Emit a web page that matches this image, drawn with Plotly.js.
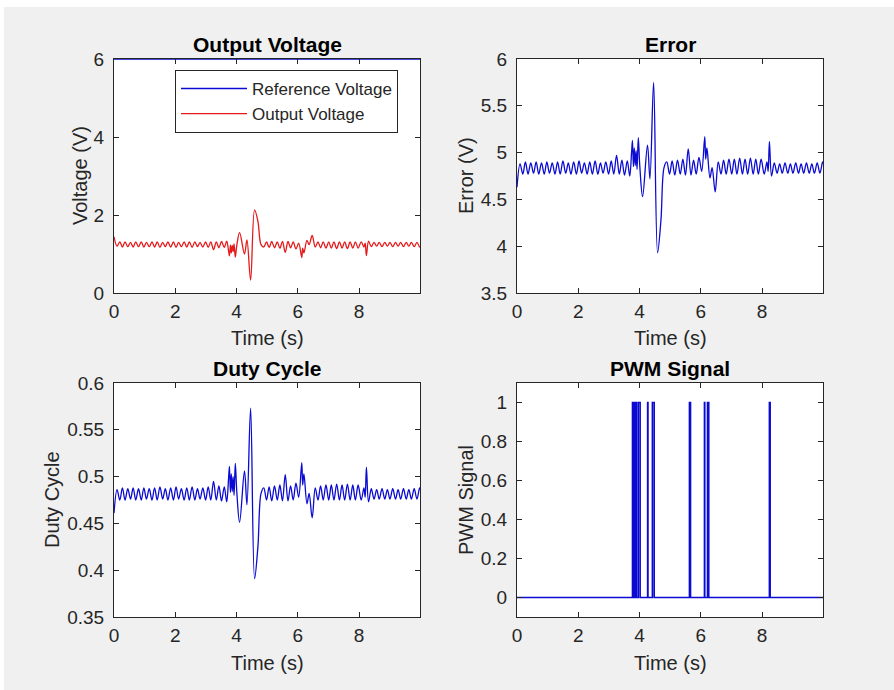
<!DOCTYPE html>
<html>
<head>
<meta charset="utf-8">
<script src="https://cdn.plot.ly/plotly-3.0.1.min.js"></script>
<style>html,body{margin:0;padding:0;background:#f0f0f0;}#chart{width:894px;height:690px;}</style>
</head>
<body>
<div id="chart"></div>
<script>
// ---- data ----
const timeS = [
  0.00, 0.10, 0.19, 0.275, 0.36, 0.45, 0.54, 0.625, 0.71, 0.80,
  0.89, 0.975, 1.06, 1.15, 1.24, 1.325, 1.41, 1.50, 1.59, 1.675,
  1.76, 1.85, 1.94, 2.025, 2.11, 2.20, 2.29, 2.375, 2.46, 2.55,
  2.64, 2.725, 2.81, 2.90, 2.99, 3.075, 3.16, 3.25, 3.34, 3.425,
  3.51, 3.60, 3.68,
  3.74, 3.77, 3.80, 3.83, 3.86, 3.89, 3.92, 3.96, 4.01, 4.10,
  4.26, 4.34, 4.46, 4.59, 4.70, 4.80,
  4.89, 4.98, 5.065, 5.15, 5.24, 5.33, 5.415, 5.50, 5.59, 5.68,
  5.765, 5.85, 5.94, 6.03, 6.13, 6.16, 6.20, 6.30, 6.37, 6.47,
  6.57, 6.66, 6.745, 6.83, 6.92, 7.01, 7.095, 7.18, 7.27, 7.36,
  7.445, 7.53, 7.62, 7.71, 7.795, 7.88, 7.97, 8.07, 8.16, 8.20,
  8.24, 8.31, 8.40, 8.49, 8.575, 8.66, 8.75, 8.84, 8.925, 9.01,
  9.10, 9.19, 9.275, 9.36, 9.45, 9.54, 9.625, 9.71, 9.80, 9.89,
  9.975, 9.99
];
const errorV = [
  4.63, 4.88, 4.77, 4.90, 4.77, 4.89, 4.78, 4.90, 4.77, 4.89,
  4.77, 4.90, 4.78, 4.89, 4.77, 4.90, 4.77, 4.91, 4.78, 4.89,
  4.77, 4.90, 4.77, 4.91, 4.78, 4.89, 4.77, 4.90, 4.77, 4.91,
  4.77, 4.89, 4.78, 4.90, 4.77, 4.91, 4.77, 4.97, 4.77, 4.92,
  4.76, 4.91, 4.75,
  5.00, 5.13, 4.85, 5.05, 4.86, 5.02, 4.82, 5.16, 4.85, 4.53,
  5.08, 4.72, 5.75, 3.93, 4.28, 4.84,
  4.90, 4.77, 4.91, 4.76, 4.92, 4.77, 4.93, 4.76, 5.04, 4.76,
  4.92, 4.77, 4.95, 4.80, 5.17, 4.93, 5.05, 4.73, 4.84, 4.58,
  4.90, 4.77, 4.92, 4.77, 4.93, 4.77, 4.93, 4.77, 4.94, 4.77,
  4.93, 4.77, 4.94, 4.77, 4.93, 4.77, 4.93, 4.77, 4.90, 4.80,
  5.12, 4.75, 4.89, 4.78, 4.88, 4.78, 4.89, 4.78, 4.88, 4.78,
  4.89, 4.78, 4.88, 4.78, 4.89, 4.78, 4.88, 4.78, 4.89, 4.78,
  4.90, 4.88
];
const outputV = [
  1.44, 1.20, 1.31, 1.18, 1.31, 1.19, 1.30, 1.18, 1.31, 1.19,
  1.31, 1.18, 1.30, 1.19, 1.31, 1.18, 1.31, 1.17, 1.30, 1.19,
  1.31, 1.18, 1.31, 1.17, 1.30, 1.19, 1.31, 1.18, 1.31, 1.17,
  1.31, 1.19, 1.30, 1.18, 1.31, 1.17, 1.31, 1.11, 1.31, 1.16,
  1.32, 1.17, 1.33,
  1.08, 0.95, 1.23, 1.03, 1.22, 1.06, 1.26, 0.92, 1.23, 1.55,
  1.00, 1.36, 0.33, 2.13, 1.83, 1.24,
  1.18, 1.31, 1.17, 1.32, 1.16, 1.31, 1.15, 1.32, 1.04, 1.32,
  1.16, 1.31, 1.13, 1.28, 0.91, 1.15, 1.03, 1.35, 1.24, 1.48,
  1.18, 1.31, 1.16, 1.31, 1.15, 1.31, 1.15, 1.31, 1.14, 1.31,
  1.15, 1.31, 1.14, 1.31, 1.15, 1.31, 1.15, 1.31, 1.18, 1.28,
  0.96, 1.33, 1.19, 1.30, 1.20, 1.30, 1.19, 1.30, 1.20, 1.30,
  1.19, 1.30, 1.20, 1.30, 1.19, 1.30, 1.20, 1.30, 1.19, 1.30,
  1.18, 1.20
];
const dutyCycle = [
  0.461, 0.486, 0.475, 0.488, 0.475, 0.487, 0.476, 0.488, 0.475, 0.487,
  0.475, 0.488, 0.476, 0.487, 0.475, 0.488, 0.475, 0.489, 0.476, 0.487,
  0.475, 0.488, 0.475, 0.489, 0.476, 0.487, 0.475, 0.488, 0.475, 0.489,
  0.475, 0.487, 0.476, 0.488, 0.475, 0.489, 0.475, 0.495, 0.475, 0.490,
  0.474, 0.489, 0.473,
  0.498, 0.511, 0.483, 0.503, 0.484, 0.500, 0.480, 0.514, 0.483, 0.451,
  0.506, 0.470, 0.573, 0.391, 0.426, 0.482,
  0.488, 0.475, 0.489, 0.474, 0.490, 0.475, 0.491, 0.474, 0.502, 0.474,
  0.490, 0.475, 0.493, 0.478, 0.515, 0.491, 0.503, 0.471, 0.482, 0.456,
  0.488, 0.475, 0.490, 0.475, 0.491, 0.475, 0.491, 0.475, 0.492, 0.475,
  0.491, 0.475, 0.492, 0.475, 0.491, 0.475, 0.491, 0.475, 0.488, 0.478,
  0.510, 0.473, 0.487, 0.476, 0.486, 0.476, 0.487, 0.476, 0.486, 0.476,
  0.487, 0.476, 0.486, 0.476, 0.487, 0.476, 0.486, 0.476, 0.487, 0.476,
  0.488, 0.486
];
const refT = [0, 9.99];
const refV = [6, 6];
// PWM switching instants (held until next instant)
const pwmT = [0, 3.770, 3.780, 3.785, 3.800, 3.805, 3.820, 3.825, 3.840, 3.845, 3.860,
              3.865, 3.880, 3.885, 3.900, 3.96, 4.02, 4.265, 4.275, 4.42, 4.48,
              5.63, 5.665, 6.12, 6.13, 6.22, 6.26, 8.24, 8.265, 9.99];
const pwmY = [0, 1, 0, 1, 0, 1, 0, 1, 0, 1, 0,
              1, 0, 1, 0, 1, 0, 1, 0, 1, 0,
              1, 0, 1, 0, 1, 0, 1, 0, 0];

const xTicks = [0, 2, 4, 6, 8];
const yTicksV = [0, 2, 4, 6];
const yTicksE = [3.5, 4, 4.5, 5, 5.5, 6];
const yTickTextE = ['3.5', '4', '4.5', '5', '5.5', '6'];
const yTicksD = [0.35, 0.4, 0.45, 0.5, 0.55, 0.6];
const yTickTextD = ['0.35', '0.4', '0.45', '0.5', '0.55', '0.6'];
const yTicksP = [0, 0.2, 0.4, 0.6, 0.8, 1];
const yTickTextP = ['0', '0.2', '0.4', '0.6', '0.8', '1'];

// ---- styling ----
const FONT = 'Liberation Sans, Arial, Helvetica, sans-serif';
const AX = '#262626';
const BLUE = '#0a0ad2';
const RED = '#e41a1a';
const W = 894, H = 690;
const px = v => v / W;
const py = v => 1 - v / H;

function axis(domain, range, tv, tt, anchor, standoff) {
  const a = {
    domain: domain, range: range, anchor: anchor,
    tickmode: 'array', tickvals: tv,
    showline: true, mirror: 'ticks', linecolor: AX, linewidth: 1,
    ticks: 'inside', ticklen: 5, tickcolor: AX, tickwidth: 1,
    tickfont: {family: FONT, size: 19, color: AX},
    showgrid: false, zeroline: false, fixedrange: true, ticklabelstandoff: standoff
  };
  if (tt) a.ticktext = tt;
  return a;
}

const xL = [px(114), px(420)], xR = [px(517), px(823)];
const yT = [py(293), py(59)], yB = [py(617), py(383)];

const lineSm = {shape: 'spline', smoothing: 1.0, width: 1.3};

const traces = [
  {x: refT, y: refV, xaxis: 'x', yaxis: 'y', mode: 'lines', name: 'Reference Voltage',
   line: {color: BLUE, width: 1.5}, cliponaxis: false},
  {x: timeS, y: outputV, xaxis: 'x', yaxis: 'y', mode: 'lines', name: 'Output Voltage',
   line: Object.assign({color: RED}, lineSm)},
  {x: timeS, y: errorV, xaxis: 'x2', yaxis: 'y2', mode: 'lines', showlegend: false,
   line: Object.assign({color: BLUE}, lineSm)},
  {x: timeS, y: dutyCycle, xaxis: 'x3', yaxis: 'y3', mode: 'lines', showlegend: false,
   line: Object.assign({color: BLUE}, lineSm)},
  {x: pwmT, y: pwmY, xaxis: 'x4', yaxis: 'y4', mode: 'lines', showlegend: false,
   line: {color: BLUE, width: 1.6, shape: 'hv'}}
];

function ann(text, x, y, size, bold, angle) {
  return {text: bold ? '<b>' + text + '</b>' : text, xref: 'paper', yref: 'paper',
    x: px(x), y: py(y), xanchor: 'center', yanchor: 'middle', showarrow: false,
    textangle: angle || 0, font: {family: FONT, size: size, color: bold ? '#000' : AX}};
}

const layout = {
  width: W, height: H,
  margin: {l: 0, r: 0, t: 0, b: 0},
  paper_bgcolor: '#f0f0f0', plot_bgcolor: '#ffffff',
  font: {family: FONT, color: AX},
  xaxis: axis(xL, [0, 9.99], xTicks, null, 'y', 1),
  yaxis: axis(yT, [0, 6], yTicksV, null, 'x', 5),
  xaxis2: axis(xR, [0, 9.99], xTicks, null, 'y2', 1),
  yaxis2: axis(yT, [3.5, 6], yTicksE, yTickTextE, 'x2', 5),
  xaxis3: axis(xL, [0, 9.99], xTicks, null, 'y3', 1),
  yaxis3: axis(yB, [0.35, 0.6], yTicksD, yTickTextD, 'x3', 5),
  xaxis4: axis(xR, [0, 9.99], xTicks, null, 'y4', 1),
  yaxis4: axis(yB, [-0.1, 1.1], yTicksP, yTickTextP, 'x4', 5),
  showlegend: true,
  legend: {x: px(175), y: py(70), xanchor: 'left', yanchor: 'top',
    bgcolor: '#ffffff', bordercolor: AX, borderwidth: 1,
    font: {family: FONT, size: 17, color: AX}, itemwidth: 66, tracegroupgap: 0},
  shapes: [
    {type: 'rect', xref: 'paper', yref: 'paper', x0: 0, x1: 1, y0: py(7), y1: 1,
     fillcolor: '#ffffff', line: {width: 0}, layer: 'below'},
    {type: 'rect', xref: 'paper', yref: 'paper', x0: 0, x1: px(4), y0: 0, y1: 1,
     fillcolor: '#ffffff', line: {width: 0}, layer: 'below'}
  ],
  annotations: [
    ann('Output Voltage', 267, 44, 21, true),
    ann('Error', 670, 44, 21, true),
    ann('Duty Cycle', 267, 368, 21, true),
    ann('PWM Signal', 670, 368, 21, true),
    ann('Time (s)', 267, 338, 20, false),
    ann('Time (s)', 670, 338, 20, false),
    ann('Time (s)', 267, 663, 20, false),
    ann('Time (s)', 670, 663, 20, false),
    ann('Voltage (V)', 80, 176, 20, false, -90),
    ann('Error (V)', 466, 176, 20, false, -90),
    ann('Duty Cycle', 52, 500, 20, false, -90),
    ann('PWM Signal', 466, 500, 20, false, -90)
  ]
};

Plotly.newPlot('chart', traces, layout, {staticPlot: true, displayModeBar: false});
</script>
</body>
</html>
